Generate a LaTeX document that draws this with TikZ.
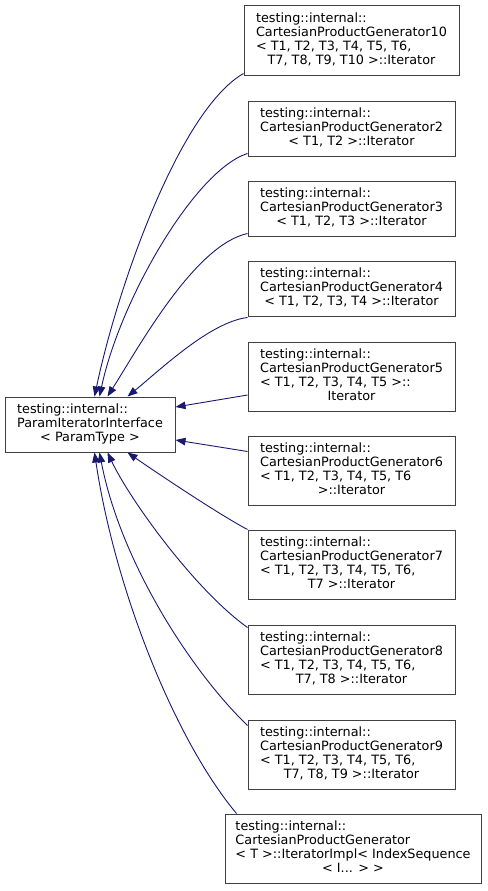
\documentclass[tikz,border=0pt]{standalone}
\usepackage{fontspec}
\setmainfont{DejaVu Sans}
\usetikzlibrary{arrows.meta,calc}
\definecolor{edgeblue}{HTML}{191970}
\definecolor{boxgray}{HTML}{404040}
\newcommand{\dxlabel}[2]{\begin{tabular}{@{}l@{}}#1\\\multicolumn{1}{@{}c@{}}{#2}\end{tabular}}
\begin{document}
\begin{tikzpicture}[x=1pt,y=-1pt,
  box/.style={draw=boxgray, line width=1pt, fill=white, rectangle, inner sep=0pt,
    font=\fontsize{12.8}{14}\selectfont, minimum width=207pt, minimum height=55pt},
  tall/.style={minimum height=69pt},
  edge/.style={draw=edgeblue, line width=0.9pt, -{Triangle[length=10pt,width=7.5pt]}}]
\useasboundingbox (0,0) rectangle (487,891);
\fill[white] (0,0) rectangle (487,891);

\node[box, minimum width=170pt] (base) at (90,424.5)
  {\dxlabel{testing::internal::\\ParamIteratorInterface}{< ParamType >}};

\node[box, tall, minimum width=215pt] (b1) at (351.5,40.5)
  {\dxlabel{testing::internal::\\CartesianProductGenerator10\\< T1, T2, T3, T4, T5, T6,}{T7, T8, T9, T10 >::Iterator}};
\node[box] (b2) at (351.5,128.5)
  {\dxlabel{testing::internal::\\CartesianProductGenerator2}{< T1, T2 >::Iterator}};
\node[box] (b3) at (351.5,208.5)
  {\dxlabel{testing::internal::\\CartesianProductGenerator3}{< T1, T2, T3 >::Iterator}};
\node[box] (b4) at (351.5,288.5)
  {\dxlabel{testing::internal::\\CartesianProductGenerator4}{< T1, T2, T3, T4 >::Iterator}};
\node[box, tall] (b5) at (351.5,376.5)
  {\dxlabel{testing::internal::\\CartesianProductGenerator5\\< T1, T2, T3, T4, T5 >::}{Iterator}};
\node[box, tall] (b6) at (351.5,470.5)
  {\dxlabel{testing::internal::\\CartesianProductGenerator6\\< T1, T2, T3, T4, T5, T6}{>::Iterator}};
\node[box, tall] (b7) at (351.5,564.5)
  {\dxlabel{testing::internal::\\CartesianProductGenerator7\\< T1, T2, T3, T4, T5, T6,}{T7 >::Iterator}};
\node[box, tall] (b8) at (351.5,659.5)
  {\dxlabel{testing::internal::\\CartesianProductGenerator8\\< T1, T2, T3, T4, T5, T6,}{T7, T8 >::Iterator}};
\node[box, tall] (b9) at (351.5,754.5)
  {\dxlabel{testing::internal::\\CartesianProductGenerator9\\< T1, T2, T3, T4, T5, T6,}{T7, T8, T9 >::Iterator}};
\node[box, tall, minimum width=256pt] (b10) at (353,848.5)
  {\dxlabel{testing::internal::\\CartesianProductGenerator\\< T >::IteratorImpl< IndexSequence}{< I... > >}};

\draw[edge] ($(b1.south west)+(0,-2)$) .. controls (180,110) and (118,285) .. ($(base.north west)+(90,0)$);
\draw[edge] ($(b2.south west)+(0,-3)$) .. controls (195,170) and (120,300) .. ($(base.north west)+(95,0)$);
\draw[edge] ($(b3.south west)+(0,-3)$) .. controls (195,245) and (140,345) .. ($(base.north west)+(103,0)$);
\draw[edge] ($(b4.south west)+(0,1)$) .. controls (210,322) and (160,370) .. ($(base.north west)+(123,0)$);
\draw[edge] ($(b5.west)+(0,18.5)$) -- ($(base.east)+(0,-17.5)$);
\draw[edge] ($(b6.north west)+(0,16)$) -- ($(base.east)+(0,15.5)$);
\draw[edge] (b7.north west) .. controls (220,515) and (160,475) .. ($(base.south west)+(123,0)$);
\draw[edge] ($(b8.north west)+(0,3)$) .. controls (195,590) and (130,500) .. ($(base.south west)+(103,0)$);
\draw[edge] ($(b9.north west)+(0,6)$) .. controls (190,670) and (120,560) .. ($(base.south west)+(95,0)$);
\draw[edge] ($(b10.north west)+(12,0)$) .. controls (175,740) and (115,590) .. ($(base.south west)+(90,0)$);
\end{tikzpicture}
\end{document}
